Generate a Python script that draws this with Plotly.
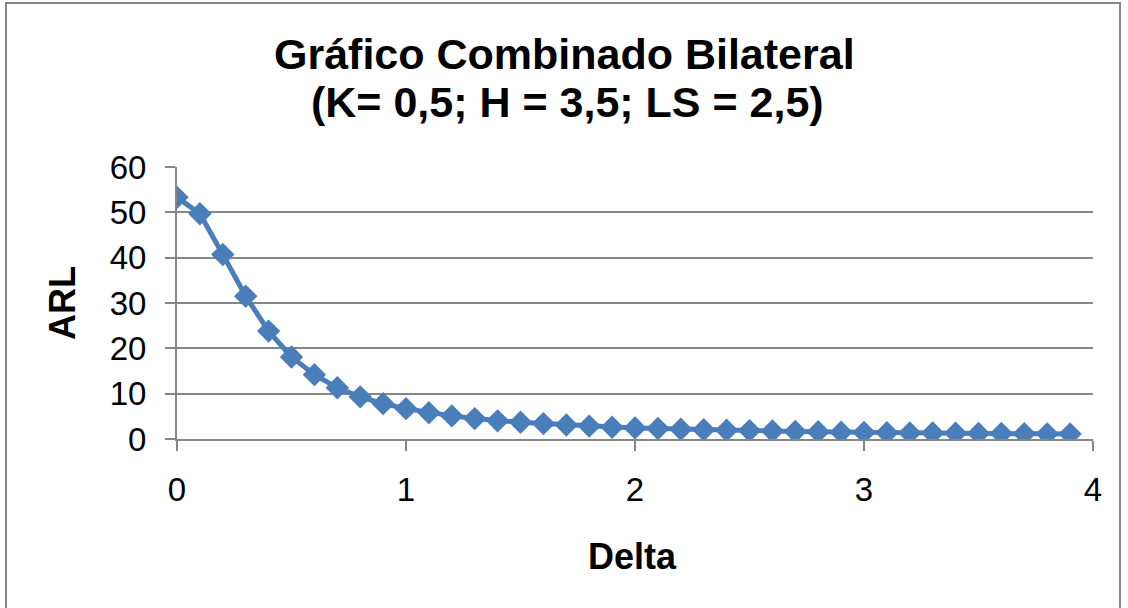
import plotly.graph_objects as go

# Delta (shift) and ARL values
delta = [round(i * 0.1, 1) for i in range(40)]
arl = [53.3, 49.7, 40.7, 31.5, 23.8, 18.1, 14.2, 11.3, 9.3, 7.8,
       6.7, 5.8, 5.1, 4.5, 4.0, 3.7, 3.4, 3.1, 2.85, 2.6,
       2.45, 2.3, 2.15, 2.05, 1.95, 1.85, 1.75, 1.65, 1.6, 1.5,
       1.45, 1.4, 1.35, 1.32, 1.28, 1.24, 1.2, 1.17, 1.14, 1.11]

x_ticks = [0, 1, 2, 3, 4]
y_ticks = [0, 10, 20, 30, 40, 50, 60]

BLUE = "#4a7ebb"
GRID = "#868686"
FONT = "Liberation Sans, Arial, sans-serif"

# plot area in page pixels: x 177..1093, y 167..439
L, R, T, B = 177, 1093, 167, 439


def px_x(p):
    return (p - L) / (R - L)


def px_y(p):
    return (B - p) / (B - T)


fig = go.Figure()
fig.add_trace(go.Scatter(
    x=delta, y=arl, mode="lines+markers",
    line=dict(color=BLUE, width=5),
    marker=dict(symbol="diamond", size=18, color=BLUE),
    showlegend=False,
))

fig.update_layout(
    width=1128, height=608,
    margin=dict(l=L, r=1128 - R, t=T, b=608 - B),
    paper_bgcolor="white", plot_bgcolor="white",
    font=dict(family=FONT, color="black"),
)
fig.update_xaxes(
    range=[0, 4], tickvals=x_ticks, showgrid=False, zeroline=False,
    showline=True, linecolor=GRID, linewidth=2,
    ticks="outside", ticklen=10, tickwidth=2, tickcolor=GRID,
    tickfont=dict(size=33), ticklabelstandoff=10,
)
fig.update_yaxes(
    range=[0, 60], tickvals=y_ticks, showgrid=True, gridcolor=GRID, gridwidth=2,
    zeroline=False, showline=True, linecolor=GRID, linewidth=2,
    ticks="outside", ticklen=10, tickwidth=2, tickcolor=GRID,
    tickfont=dict(size=33), ticklabelstandoff=12,
)

# title lines and axis titles (title centred on the whole chart)
titles = [
    ("<b>Gráfico Combinado Bilateral</b>", px_x(564), px_y(54), 43, 0),
    ("<b>(K= 0,5; H = 3,5; LS = 2,5)</b>", px_x(567), px_y(102), 43, 0),
    ("<b>Delta</b>", px_x(632), px_y(556), 36, 0),
    ("<b>ARL</b>", px_x(62), px_y(303), 36, -90),
]
for text, x, y, size, angle in titles:
    fig.add_annotation(text=text, x=x, y=y, xref="paper", yref="paper",
                       xanchor="center", yanchor="middle", showarrow=False,
                       textangle=angle, font=dict(size=size, family=FONT))

# outer chart frame
fig.add_shape(type="rect", xref="paper", yref="paper",
              x0=px_x(6), x1=px_x(1120), y0=px_y(620), y1=px_y(3),
              line=dict(color=GRID, width=2), fillcolor="rgba(0,0,0,0)", layer="below")

fig.write_html("out.html", config={"displayModeBar": False},
               post_script="document.body.style.margin='0';")
